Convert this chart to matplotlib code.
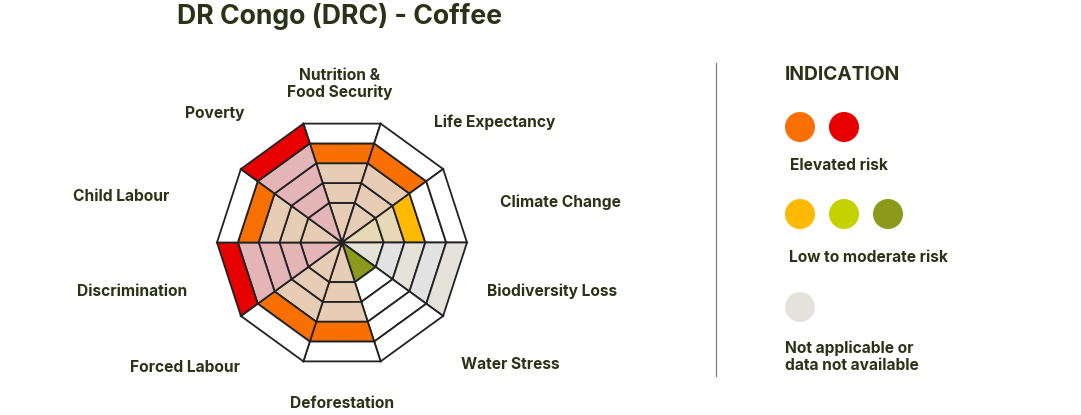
import matplotlib.pyplot as plt
from matplotlib.patches import Circle
import numpy as np


TITLE = "DR Congo (DRC) - Coffee"

# clockwise from the top sector
CATEGORIES = [
    "Nutrition &\nFood Security",
    "Life Expectancy",
    "Climate Change",
    "Biodiversity Loss",
    "Water Stress",
    "Deforestation",
    "Forced Labour",
    "Discrimination",
    "Child Labour",
    "Poverty",
]
RISK_LEVELS = [4, 4, 3, 5, 1, 4, 4, 5, 4, 5]
TOP_COLORS = [
    "#f97000", "#f97000", "#ffb900", "#e5e2da", "#8b9a1a",
    "#f97000", "#f97000", "#e60000", "#f97000", "#e60000",
]
PALE_COLORS = [
    "#e8cdb6", "#e8cdb6", "#e7d9b5", "#e5e2da", "#8b9a1a",
    "#e8cdb6", "#e8cdb6", "#e4b5b7", "#e8cdb6", "#e4b5b7",
]
NO_DATA_STRIPE = "#e2e2e2"

LABEL_POS = [
    (340, 84), (434, 122), (500, 202), (487, 291), (461, 364),
    (290, 403), (130, 367), (77, 291), (73, 196), (185, 113),
]

LEGEND_GROUPS = [
    ("Elevated risk", (790, 165), 127, ["#f97000", "#e60000"]),
    ("Low to moderate risk", (789, 257), 214, ["#ffb900", "#c4d200", "#8b9a1a"]),
    ("Not applicable or\ndata not available", (785, 357), 307, ["#e5e2dc"]),
]

TEXT_COLOR = "#2a3316"
LINE_COLOR = "#222222"
FONT = "Inter"
WIDTH, HEIGHT = 1081, 415


def draw_radar(fig):
    # centre at (342, 242.5), outer radius 125 px
    ax = fig.add_axes(
        [217 / WIDTH, (HEIGHT - 367.5) / HEIGHT, 250 / WIDTH, 250 / HEIGHT],
        projection="polar",
    )
    ax.set_theta_zero_location("N")
    ax.set_theta_direction(-1)
    ax.set_ylim(-1, 5)
    ax.axis("off")

    n = len(CATEGORIES)
    step = 2 * np.pi / n
    for i in range(n):
        t0 = (i - 0.5) * step
        t1 = (i + 0.5) * step
        level = RISK_LEVELS[i]
        bottom = -1
        for ring in range(1, 6):
            color = "white"
            if ring <= level:
                color = PALE_COLORS[i]
                if ring == level:
                    color = TOP_COLORS[i]
                if CATEGORIES[i] == "Biodiversity Loss" and ring % 2 == 0:
                    color = NO_DATA_STRIPE
            ax.fill(
                [t0, t1, t1, t0],
                [bottom, bottom, ring, ring],
                facecolor=color,
                edgecolor=LINE_COLOR,
                linewidth=1.3,
                clip_on=False,
            )
            bottom = ring


def draw_text_and_legend(fig):
    # overlay in pixel coordinates, y down
    ax = fig.add_axes([0, 0, 1, 1])
    ax.set_xlim(0, WIDTH)
    ax.set_ylim(HEIGHT, 0)
    ax.axis("off")
    ax.patch.set_alpha(0)

    ax.text(177, 16, TITLE, fontsize=19.2, fontweight="bold",
            color=TEXT_COLOR, family=FONT, va="center")

    for label, (x, y) in zip(CATEGORIES, LABEL_POS):
        ha = "center" if "\n" in label else "left"
        ax.text(x, y, label, fontsize=11.2, fontweight="bold", color=TEXT_COLOR,
                family=FONT, ha=ha, va="center", linespacing=1.2)

    ax.plot([716, 716], [63, 376], color="#808080", linewidth=0.9)

    ax.text(785, 75, "INDICATION", fontsize=13.8, fontweight="bold",
            color=TEXT_COLOR, family=FONT, va="center")

    for label, (x, y), circle_y, colors in LEGEND_GROUPS:
        ax.text(x, y, label, fontsize=11.2, fontweight="bold", color=TEXT_COLOR,
                family=FONT, va="center", linespacing=1.2)
        for j, color in enumerate(colors):
            ax.add_patch(Circle((800 + 44 * j, circle_y), 15, facecolor=color,
                                edgecolor="none"))


def main():
    fig = plt.figure(figsize=(WIDTH / 100, HEIGHT / 100), dpi=100)
    draw_radar(fig)
    draw_text_and_legend(fig)
    fig.savefig("out.png", dpi=100)
    plt.close(fig)


if __name__ == "__main__":
    main()
